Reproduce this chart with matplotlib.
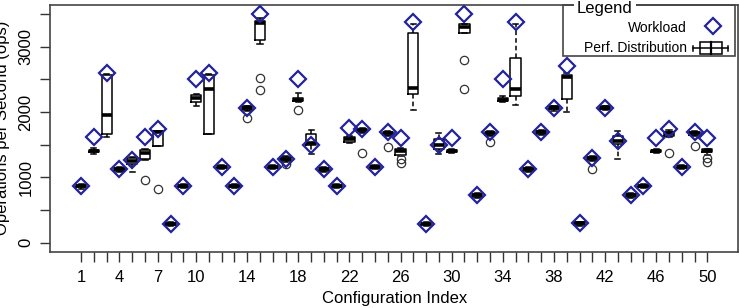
import numpy as np
import matplotlib
matplotlib.use("Agg")
import matplotlib.pyplot as plt
from matplotlib.patches import Rectangle
from matplotlib.lines import Line2D

plt.rcParams['font.family'] = ['Liberation Sans', 'DejaVu Sans']

# workload level per configuration (diamonds)
workload = [866, 1610, 2600, 1122, 1260, 1610, 1735, 291, 866, 2500,
            2600, 1158, 866, 2067, 3506, 1158, 1286, 2500, 1494, 1122,
            866, 1760, 1735, 1158, 1694, 1607, 3378, 291, 1494, 1607,
            3506, 724, 1694, 2500, 3378, 1122, 1694, 2067, 2704, 295,
            1301, 2067, 1556, 724, 866, 1607, 1735, 1158, 1694, 1607]

# performance distribution per configuration (box stats)
q1 = [845, 1380, 1660, 1100, 1200, 1280, 1480, 275, 850, 2160,
      1670, 1140, 850, 2030, 3100, 1140, 1255, 2170, 1494, 1100,
      850, 1540, 1700, 1140, 1650, 1340, 2270, 275, 1430, 1380,
      3215, 705, 1650, 2170, 2245, 1100, 1670, 2040, 2194, 275,
      1270, 2045, 1505, 705, 850, 1385, 1630, 1140, 1650, 1380]
med = [866, 1400, 1954, 1120, 1250, 1370, 1690, 291, 866, 2210,
       2347, 1158, 866, 2055, 3360, 1158, 1280, 2190, 1530, 1120,
       866, 1580, 1725, 1158, 1680, 1400, 2373, 291, 1500, 1400,
       3300, 724, 1680, 2190, 2347, 1120, 1694, 2060, 2540, 295,
       1290, 2067, 1560, 724, 866, 1400, 1680, 1158, 1680, 1410]
q3 = [880, 1425, 2560, 1140, 1290, 1425, 1705, 305, 880, 2260,
      2565, 1175, 880, 2085, 3400, 1175, 1305, 2215, 1658, 1140,
      880, 1620, 1745, 1175, 1700, 1440, 3215, 305, 1580, 1420,
      3342, 740, 1700, 2215, 2822, 1140, 1715, 2085, 2565, 310,
      1310, 2085, 1632, 740, 880, 1415, 1700, 1175, 1700, 1430]
whis_lo = [820, 1350, 1610, 1080, 1085, 1270, 1475, 260, 835, 2095,
           1665, 1125, 835, 2010, 3040, 1125, 1240, 2150, 1352, 1085,
           835, 1520, 1680, 1125, 1630, 1320, 2030, 260, 1352, 1365,
           3215, 690, 1630, 2150, 2102, 1085, 1655, 2020, 2000, 260,
           1255, 2030, 1285, 690, 835, 1370, 1620, 1125, 1630, 1340]
whis_hi = [895, 1450, 2590, 1160, 1305, 1430, 1715, 315, 895, 2280,
           2590, 1190, 895, 2100, 3440, 1190, 1320, 2296, 1719, 1155,
           895, 1640, 1760, 1190, 1715, 1455, 3342, 315, 1684, 1435,
           3342, 755, 1715, 2240, 3342, 1155, 1730, 2100, 2600, 320,
           1325, 2100, 1709, 755, 895, 1430, 1720, 1190, 1715, 1440]
outliers = [[], [], [], [], [], [965], [816], [], [], [],
            [], [], [], [1903], [2526, 2332], [], [1209], [2025], [], [],
            [], [], [1378], [], [1470], [1275, 1225], [], [], [], [],
            [2802, 2347], [], [1540], [], [], [], [], [], [], [],
            [1122], [], [], [], [], [], [1367], [], [1479], [1301, 1240]]

x_labels = [1, 4, 7, 10, 14, 18, 22, 26, 30, 34, 38, 42, 46, 50]

W, H = 739, 308
fig = plt.figure(figsize=(W / 100, H / 100), dpi=100)
ax = fig.add_axes([50 / W, (H - 251.7) / H, 688 / W, (251.7 - 5) / H])

pos = np.arange(1, len(workload) + 1)
stats = []
for i in range(len(workload)):
    stats.append(dict(q1=q1[i], med=med[i], q3=q3[i], whislo=whis_lo[i],
                      whishi=whis_hi[i], fliers=outliers[i]))

ax.bxp(stats, positions=pos, widths=0.8, capwidths=0.4,
       boxprops=dict(color='black', lw=1.1),
       medianprops=dict(color='black', lw=2.6),
       whiskerprops=dict(color='black', lw=1.1, linestyle=(0, (3, 2))),
       capprops=dict(color='black', lw=1.1),
       flierprops=dict(marker='o', mfc='none', mec='#333333', ms=6, mew=0.9))

ax.plot(pos, workload, 'D', ms=8, mfc='none', mec='#22229a', mew=1.6, zorder=5)

ax.set_xlim(-1.43, 52.4)
ax.set_ylim(-140, 3640)

ax.set_xticks(pos)
ax.set_xticklabels([str(p) if p in x_labels else '' for p in pos], fontsize=12)
yt = np.arange(0, 3501, 500)
ax.set_yticks(yt)
ax.set_yticklabels([str(v) if v % 1000 == 0 else '' for v in yt], fontsize=12,
                   rotation=90, va='center')
ax.tick_params(axis='x', length=7, width=1, pad=6, color='#333333')
ax.tick_params(axis='y', length=7, width=1, pad=5, color='#333333')
for s in ax.spines.values():
    s.set_color('#444444')
    s.set_linewidth(1.2)

fig.text(10 / W, 1 - 128 / H, 'Operations per Second (ops)', rotation=90,
         ha='right', va='center', fontsize=12)
fig.text(395 / W, 1 - 298 / H, 'Configuration Index', ha='center',
         va='center', fontsize=12)

# legend drawn R-style, title sitting on the border
def fx(px):
    return px / W

def fy(py):
    return 1 - py / H

fig.add_artist(Rectangle((fx(563), fy(56)), fx(735) - fx(563), fy(5) - fy(56),
                         fill=False, ec='#444444', lw=1.2,
                         transform=fig.transFigure, zorder=6))
fig.text(fx(605), fy(8.5), 'Legend', ha='center', va='center', fontsize=12,
         zorder=7, bbox=dict(fc='white', ec='none', pad=2))
fig.text(fx(687), fy(28), 'Workload', ha='right', va='center', fontsize=10)
fig.text(fx(687), fy(48), 'Perf. Distribution', ha='right', va='center',
         fontsize=10)
fig.add_artist(Line2D([fx(713)], [fy(26)], marker='D', ms=8, mfc='none',
                      mec='#22229a', mew=1.6, transform=fig.transFigure))
gy = 48
fig.add_artist(Line2D([fx(693), fx(728)], [fy(gy), fy(gy)], color='black',
                      lw=1.1, transform=fig.transFigure))
for cx in (693, 728):
    fig.add_artist(Line2D([fx(cx), fx(cx)], [fy(gy - 2.5), fy(gy + 2.5)],
                          color='black', lw=1.1, transform=fig.transFigure))
fig.add_artist(Rectangle((fx(700), fy(gy + 6)), fx(722) - fx(700),
                         fy(gy - 6) - fy(gy + 6), fc='white', ec='black',
                         lw=1.1, transform=fig.transFigure))
fig.add_artist(Line2D([fx(711), fx(711)], [fy(gy - 6), fy(gy + 6)],
                      color='black', lw=1.6, transform=fig.transFigure))

fig.savefig('out.png', dpi=100)
